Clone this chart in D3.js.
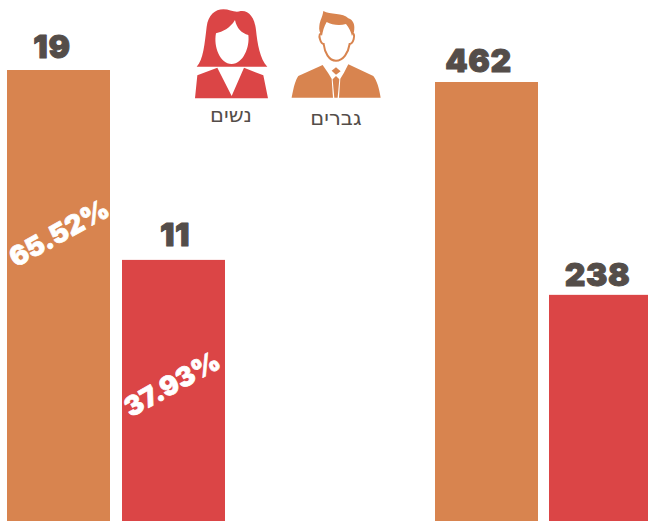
<!DOCTYPE html>
<html lang="he"><head><meta charset="utf-8">
<script src="https://cdn.jsdelivr.net/npm/d3@7/dist/d3.min.js"></script>
<style>html,body{margin:0;padding:0;background:#fff;overflow:hidden}svg{display:block}</style>
</head><body><svg id="c" width="648" height="522"></svg>
<script>
const leftValues = [19, 11];
const leftLabels = ["65.52%", "37.93%"];
const rightValues = [462, 238];
const seriesNames = ["גברים", "נשים"];
const seriesColors = ["#d8844f", "#db4546"];
const ink = "#544d49";

const svg = d3.select("#c");
const H = 521;
const yLeft = d3.scaleLinear().domain([0, 19]).range([H, 70]);
const yRight = d3.scaleLinear().domain([0, 462]).range([H, 82]);
const xLeft = d3.scaleOrdinal().domain([0, 1]).range([7, 122]);
const xRight = d3.scaleOrdinal().domain([0, 1]).range([435, 549]);
const bw = 103;

function group(vals, x, y, labels, valueCx, gaps, labelAt) {
  vals.forEach((v, i) => {
    const w = Math.min(bw, 648 - x(i));
    svg.append("rect").attr("x", x(i)).attr("y", y(v)).attr("width", w).attr("height", H - y(v)).attr("fill", seriesColors[i]);
    svg.append("text").attr("x", valueCx[i]).attr("y", y(v) - gaps[i]).attr("text-anchor", "middle")
      .attr("font-family", "Inter").attr("font-weight", 900).attr("font-size", 32)
      .attr("letter-spacing", 0.6)
      .attr("stroke", ink).attr("stroke-width", 1).attr("stroke-linejoin", "round")
      .attr("fill", ink).text(v);
    if (labels) {
      svg.append("text").attr("transform", `translate(${labelAt[i][0]},${labelAt[i][1]}) rotate(-29)`)
        .attr("text-anchor", "middle").attr("dominant-baseline", "central")
        .attr("font-family", "Inter").attr("font-weight", 900).attr("font-size", 27)
        .attr("stroke", "#fff").attr("stroke-width", 0.7).attr("stroke-linejoin", "round")
        .attr("fill", "#fff").text(labels[i]);
    }
  });
}
group(leftValues, xLeft, yLeft, leftLabels, [52, 175], [12.5, 14], [[59, 233], [172, 384]]);
group(rightValues, xRight, yRight, null, [478.5, 597.5], [10, 8.5], null);

// icons, drawn in zoomed (3x) coordinates
const icons = svg.append("g").attr("transform", "translate(180,0) scale(0.3333)");
const woman = icons.append("g");
woman.append("path").attr("fill", seriesColors[1]).attr("d", "M50,200 C70,180 74,130 80,80 C85,45 105,28 130,28 C150,28 165,40 182,33 C205,30 224,50 228,90 C232,130 240,178 262,200 Z");
woman.append("path").attr("fill", "#fff").attr("d", "M165,60 C150,85 128,95 108,100 C100,140 120,192 155,192 C190,192 210,140 205,105 C185,100 170,85 165,60 Z");
woman.append("path").attr("fill", seriesColors[1]).attr("d", "M52,226 L112,203 L155,288 L192,203 L250,226 L264,295 L45,295 Z");
const man = icons.append("g");
man.append("path").attr("fill", seriesColors[0]).attr("d", "M430,33 C450,45 490,38 505,55 C520,60 526,75 522,95 L516,108 C513,95 508,85 498,72 C480,78 455,75 440,66 C432,80 428,95 426,108 C420,100 416,90 418,78 C420,60 428,50 430,33 Z");
man.append("path").attr("fill", "none").attr("stroke", seriesColors[0]).attr("stroke-width", 6).attr("d", "M426,100 C420,100 416,105 420,118 C423,128 428,132 431,132 C434,158 447,182 468,182 C490,182 505,158 509,132 C513,132 518,128 521,118 C525,105 520,98 516,100");
man.append("path").attr("fill", seriesColors[0]).attr("d", "M335,293 C340,265 346,240 355,228 L428,195 L444,218 L455,236 L459,293 Z");
man.append("path").attr("fill", seriesColors[0]).attr("d", "M602,293 C598,265 590,240 580,228 L505,193 L492,218 L481,236 L477,293 Z");
man.append("path").attr("fill", seriesColors[0]).attr("d", "M458,238 L468,228 L478,238 L473,293 L463,293 Z");
man.append("path").attr("fill", seriesColors[0]).attr("d", "M455,212 L468,202 L482,214 L468,224 Z");

const leg = [[336, seriesNames[0], 125], [231, seriesNames[1], 122]];
leg.forEach(d => svg.append("text").attr("x", d[0]).attr("y", d[2]).attr("text-anchor", "middle")
  .attr("font-family", "DejaVu Sans").attr("font-size", 21).attr("fill", ink).text(d[1]));
</script></body></html>
